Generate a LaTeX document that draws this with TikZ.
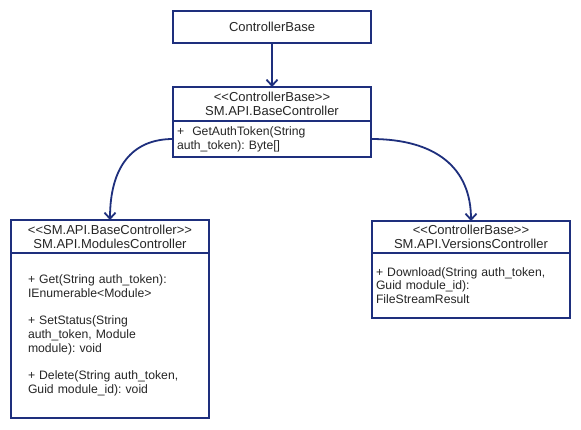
\documentclass[tikz,border=0pt]{standalone}
\usepackage{fontspec}
\setmainfont{Liberation Sans}
\usetikzlibrary{arrows.meta}
\definecolor{uml}{RGB}{30,47,125}
\newcommand\stlt{\mbox{<}\mbox{<}}
\newcommand\stgt{\mbox{>}\mbox{>}}
\frenchspacing
\begin{document}
\begin{tikzpicture}[x=1pt,y=-1pt]
\tikzset{
  umlbox/.style={draw=uml, line width=1.8pt, outer sep=0pt, inner sep=0pt,
    anchor=north west, minimum width=198pt, text=black!85},
  head/.style={umlbox, align=center, font=\fontsize{13}{14.3}\selectfont},
  body/.style={umlbox, align=left, font=\fontsize{12.2}{13.7}\selectfont},
  inh/.style={draw=uml, line width=1.8pt, -{Straight Barb[length=6pt,width=11pt]}}
}
\useasboundingbox[fill=white] (0,0) rectangle (581,429);
% ControllerBase
\node[head, minimum height=32pt] (cb) at (173,11) {ControllerBase};
% BaseController
\node[head, minimum height=34pt] (bch) at (173,87) {\stlt ControllerBase\stgt\\SM.API.BaseController};
\node[body, minimum height=36pt, inner xsep=4pt, text width=190pt] (bcb) at (173,121)
  {+ \ GetAuthToken(String\\auth\_token): Byte[]};
% ModulesController
\node[head, minimum height=33pt] (mch) at (11,220) {\stlt SM.API.BaseController\stgt\\SM.API.ModulesController};
\node[body, minimum height=165pt, inner xsep=17pt, text width=164pt] (mcb) at (11,253)
  {+ Get(String auth\_token):\\IEnumerable<Module>\\[13.7pt]+ SetStatus(String\\auth\_token, Module\\module): void\\[13.7pt]+ Delete(String auth\_token,\\Guid module\_id): void};
% VersionsController
\node[head, minimum height=32pt] (vch) at (372,221) {\stlt ControllerBase\stgt\\SM.API.VersionsController};
\node[body, minimum height=65pt, inner xsep=4pt, text width=190pt] (vcb) at (372,253)
  {+ Download(String auth\_token,\\Guid module\_id):\\FileStreamResult};
% connectors
\draw[inh] (cb.south) -- (bch.north);
\draw[inh] (bcb.west) .. controls +(-41,0) and +(0,-53) .. (mch.north);
\draw[inh] (bcb.east) .. controls +(65,0) and +(0,-53) .. (vch.north);
\end{tikzpicture}
\end{document}
